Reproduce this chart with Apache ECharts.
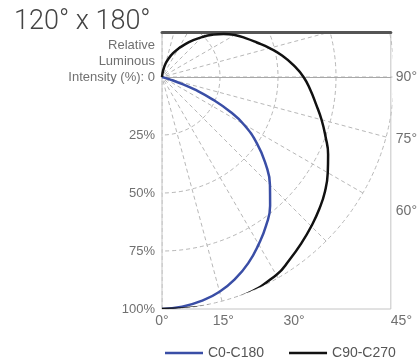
<!DOCTYPE html>
<html><head><meta charset="utf-8">
<script src="https://cdn.jsdelivr.net/npm/echarts@6/dist/echarts.min.js"></script>
<style>html,body{margin:0;padding:0;background:#fff}#c{width:420px;height:360px}</style>
</head><body><div id="c"></div>
<script>
// ---- data (relative luminous intensity %, by angle in degrees) ----
const blueAngles = [0, 5, 10, 15, 20, 25, 30, 35, 40, 45, 50, 55, 60, 63, 66, 69, 71, 73, 75, 90];
const blueValues = [100, 99.4, 98, 95.8, 92.5, 88.3, 83.3, 78.2, 72.5, 65.8, 58.3, 50, 40.5, 33, 24, 15, 9, 3.5, 0, 0];
const blackAngles = [0, 10, 20, 30, 35, 40, 45, 50, 55, 60, 65, 70, 75, 80, 85, 90, 95, 100, 105, 110, 115, 120, 125, 130, 135, 140, 145, 150, 155, 160, 165, 170, 175];
const blackValues = [100, 100.5, 100.5, 98.5, 96, 93.5, 91, 88.5, 85.8, 82.5, 79, 75, 71.2, 67.4, 64.2, 61, 57, 52.7, 48, 43.5, 39.7, 36.2, 32.4, 28.3, 24.3, 20.6, 17.2, 14.1, 11.3, 8.6, 6, 3, 0];
const seriesNames = ['C0-C180', 'C90-C270'];
const leftTicks = [0, 25, 50, 75, 100];
const leftLabels = ['Relative\nLuminous\nIntensity (%): 0\n\n', '25%', '50%', '75%', '100%'];
const bottomAngles = [0, 15, 30, 45];
const bottomLabels = ['0°', '15°', '30°', '45°'];
const rightAngles = [90, 75, 60];
const rightLabels = ['90°', '75°', '60°'];
const titleText = '120° x 180°';

// ---- layout ----
const OX = 162, OY = 77, R = 232, BOX_R = 392, BOX_T = 32, BOX_B = 309;
const W = 420, H = 360;
const yMin = -(OY - BOX_T) / R * 100;
const rad = d => d * Math.PI / 180;
const bottomPos = bottomAngles.map(a => 100 * Math.tan(rad(a)));
const rightPos = rightAngles.map(a => a === 90 ? 0 : 100 / Math.tan(rad(a)));
const pick = (positions, labels) => v => {
  let best = 0, bd = Infinity;
  positions.forEach((p, i) => { const d = Math.abs(p - v); if (d < bd) { bd = d; best = i; } });
  return labels[best];
};

const gridLine = { color: '#b8b8b8', type: [4, 3], width: 1 };
const txt = '#707070';
const font = 'Liberation Sans, Arial, sans-serif';
const mask = (x, y, w, h) => ({ type: 'rect', z: 1, silent: true, shape: { x, y, width: w, height: h }, style: { fill: '#fff' } });

const chart = echarts.init(document.getElementById('c'), null, { renderer: 'canvas' });
chart.setOption({
  animation: false,
  backgroundColor: '#fff',
  textStyle: { fontFamily: font },
  title: { text: titleText, left: 9, top: 4, z: 10, textStyle: { fontSize: 27, fontWeight: 300, color: '#444', fontFamily: 'Roboto, Liberation Sans, Arial, sans-serif' } },
  legend: {
    data: seriesNames, left: 160, top: 341, z: 10, icon: 'rect', itemWidth: 38, itemHeight: 2.5, itemGap: 25,
    textStyle: { fontSize: 14, color: '#555' }
  },
  graphic: { elements: [mask(0, 0, OX - 0.5, H), mask(BOX_R + 0.5, 0, W - BOX_R, H), mask(0, 0, W, BOX_T - 0.5), mask(0, BOX_B + 0.5, W, H - BOX_B)] },
  polar: { center: [OX, OY], radius: R },
  angleAxis: {
    type: 'value', min: 0, max: 360, interval: 15, startAngle: 270, clockwise: false, z: 0,
    axisLine: { show: false }, axisTick: { show: false }, axisLabel: { show: false },
    splitLine: { show: true, lineStyle: gridLine }
  },
  radiusAxis: {
    type: 'value', min: 0, max: 100, interval: 25, z: 0,
    axisLine: { show: false }, axisTick: { show: false }, axisLabel: { show: false },
    splitLine: { show: true, lineStyle: gridLine }
  },
  grid: { left: OX, top: BOX_T, width: BOX_R - OX, height: BOX_B - BOX_T, show: true, borderColor: '#c4c4c4', borderWidth: 1, z: 2 },
  xAxis: [
    { type: 'value', position: 'bottom', min: 0, max: 100, z: 3,
      axisLine: { show: false, onZero: false }, axisTick: { show: false }, splitLine: { show: false },
      axisLabel: { customValues: bottomPos, formatter: pick(bottomPos, bottomLabels), fontSize: 14, color: txt, margin: 5, alignMaxLabel: 'left' } },
    { type: 'value', position: 'bottom', min: 0, max: 100, z: 3,
      axisLine: { show: true, onZero: true, lineStyle: { color: '#a8a8a8', width: 1 } }, axisTick: { show: false }, splitLine: { show: false }, axisLabel: { show: false } },
    { type: 'value', position: 'top', min: 0, max: 100, z: 4,
      axisLine: { show: true, onZero: false, lineStyle: { color: '#555', width: 3 } }, axisTick: { show: false }, splitLine: { show: false }, axisLabel: { show: false } }
  ],
  yAxis: [
    { type: 'value', position: 'left', inverse: true, min: yMin, max: 100, z: 3,
      axisLine: { show: false }, axisTick: { show: false }, splitLine: { show: false },
      axisLabel: { customValues: leftTicks, formatter: pick(leftTicks, leftLabels), fontSize: 13, lineHeight: 16, color: txt, margin: 7 } },
    { type: 'value', position: 'right', inverse: true, min: yMin, max: 100, z: 3,
      axisLine: { show: false }, axisTick: { show: false }, splitLine: { show: false },
      axisLabel: { customValues: rightPos, formatter: pick(rightPos, rightLabels), fontSize: 14, color: txt, margin: 5, padding: [4, 0, 0, 0] } }
  ],
  series: [
    { name: seriesNames[0], type: 'line', coordinateSystem: 'polar', z: 5, showSymbol: false, smooth: 0.5,
      itemStyle: { color: '#3a4ea6' }, lineStyle: { color: '#3a4ea6', width: 2.5 },
      data: blueAngles.map((a, i) => [blueValues[i], a]) },
    { name: seriesNames[1], type: 'line', coordinateSystem: 'polar', z: 5, showSymbol: false, smooth: 0.5,
      itemStyle: { color: '#111' }, lineStyle: { color: '#111', width: 2.5 },
      data: blackAngles.map((a, i) => [blackValues[i], a]) }
  ]
});
</script>
</body></html>
